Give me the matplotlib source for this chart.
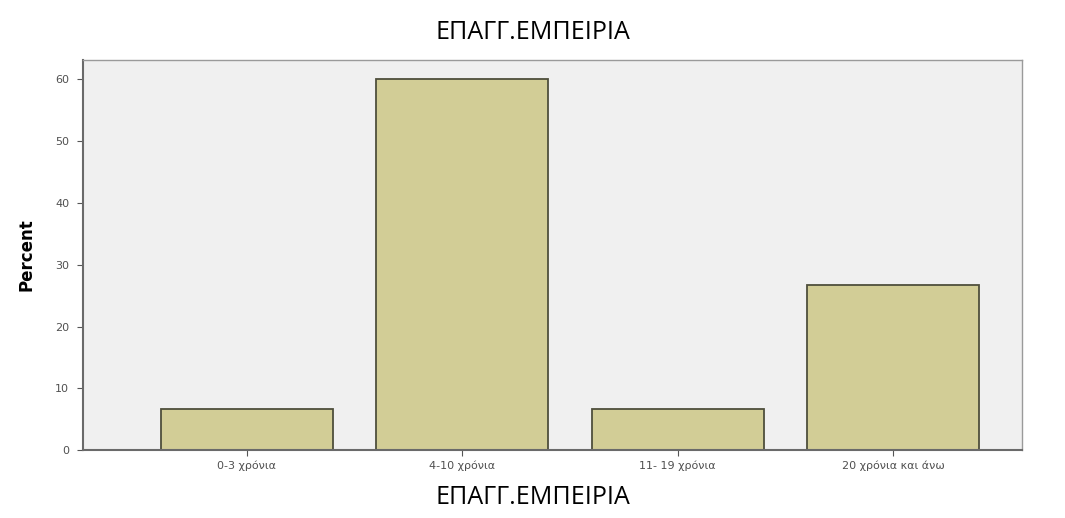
import matplotlib
matplotlib.use('Agg')
import matplotlib.pyplot as plt

# Data
categories = ['0-3 χρόνια', '4-10 χρόνια', '11- 19 χρόνια', '20 χρόνια και άνω']
percent = [6.67, 60.0, 6.67, 26.67]
y_ticks = [0, 10, 20, 30, 40, 50, 60]

fig = plt.figure(figsize=(10.65, 5.18), dpi=100)
ax = fig.add_axes([0.078, 0.131, 0.882, 0.753])
ax.set_facecolor('#f0f0f0')

x = range(len(categories))
ax.bar(x, percent, width=0.8, color='#d2cd96', edgecolor='#4f4f3c', linewidth=1.3)

ax.set_xlim(-0.76, 3.6)
ax.set_ylim(0, 63.1)
ax.set_yticks(y_ticks)
ax.set_xticks(list(x))
ax.set_xticklabels(categories)
ax.tick_params(axis='both', colors='#555555', labelsize=8, length=4)
ax.tick_params(axis='y', pad=6)
for lbl in ax.get_xticklabels() + ax.get_yticklabels():
    lbl.set_color('#505050')

for side in ['left', 'bottom']:
    ax.spines[side].set_color('#6a6a6a')
    ax.spines[side].set_linewidth(1.5)
for side in ['top', 'right']:
    ax.spines[side].set_color('#9a9a9a')
    ax.spines[side].set_linewidth(1.0)

ax.set_ylabel('Percent', fontsize=12, fontweight='bold', family='Liberation Sans Narrow', labelpad=14)

# title and axis title
fig.text(0.5, 0.938, 'ΕΠΑΓΓ.ΕΜΠΕΙΡΙΑ', ha='center', va='center', fontsize=18, family='Open Sans',
         bbox=dict(facecolor='white', edgecolor='none', pad=6))
fig.text(0.5, 0.04, 'ΕΠΑΓΓ.ΕΜΠΕΙΡΙΑ', ha='center', va='center', fontsize=18, family='Open Sans')

plt.savefig('out.png', dpi=100)
plt.close()
